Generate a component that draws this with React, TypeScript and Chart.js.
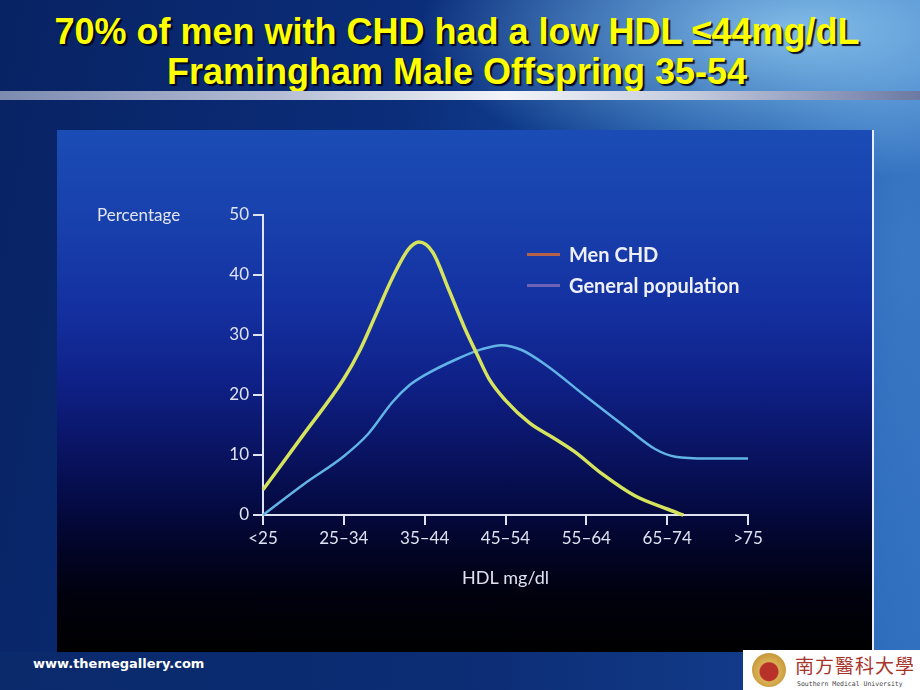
import React, { useEffect, useRef } from 'react';
import { Chart, registerables } from 'chart.js';

Chart.register(...registerables);

// ---- data ----
const hdlCategories = ['<25', '25–34', '35–44', '45–54', '55–64', '65–74', '>75'];
const seriesNames = ['Men CHD', 'General population'];

// x = position along the HDL category axis (0 = "<25" ... 6 = ">75"), y = percentage
const chdPosition = [0, 0.5, 1, 1.2, 1.4, 1.6, 1.8, 1.93, 2.1, 2.3, 2.5, 2.64, 2.8, 3, 3.3, 3.6, 3.85, 4.2, 4.6, 5, 5.2];
const chdPercent = [4.2, 13.4, 22.7, 27.5, 33.5, 39.5, 44.3, 45.5, 43.8, 37.5, 31, 27, 22.6, 19.1, 15.3, 12.8, 10.6, 6.8, 3.2, 1.0, 0];

const popPosition = [0, 0.5, 1, 1.3, 1.6, 1.8, 2, 2.4, 2.7, 2.95, 3.2, 3.5, 4, 4.5, 4.85, 5.1, 5.5, 6];
const popPercent = [0, 5.1, 9.8, 13.5, 18.8, 21.5, 23.3, 26.0, 27.6, 28.3, 27.5, 25, 19.7, 14.5, 11, 9.7, 9.4, 9.4];

const yMin = 0;
const yMax = 50;
const yStep = 10;

const titleLines = ['70% of men with CHD had a low HDL ≤44mg/dL', 'Framingham Male Offspring 35-54'];
const yAxisLabel = 'Percentage';
const xAxisLabel = 'HDL mg/dl';

const lineColors = ['#d6e35c', '#62b4e6'];
const legendColors = ['#c8663f', '#7668b8'];
const axisColor = '#dfe3f1';
const labelFont = 'Lato, "Open Sans", sans-serif';

function ChartPanel() {
  const ref = useRef<HTMLCanvasElement | null>(null);
  useEffect(() => {
    if (!ref.current) return;
    const chart = new Chart(ref.current, {
      type: 'line',
      data: {
        datasets: [
          {
            label: seriesNames[0],
            data: chdPosition.map((x, i) => ({ x, y: chdPercent[i] })),
            borderColor: lineColors[0],
            borderWidth: 3.5,
            pointRadius: 0,
            cubicInterpolationMode: 'monotone',
            fill: false,
            clip: 6,
          },
          {
            label: seriesNames[1],
            data: popPosition.map((x, i) => ({ x, y: popPercent[i] })),
            borderColor: lineColors[1],
            borderWidth: 2.5,
            pointRadius: 0,
            cubicInterpolationMode: 'monotone',
            fill: false,
            clip: 6,
          },
        ],
      },
      options: {
        responsive: false,
        animation: false,
        layout: { padding: { top: 85, right: 124, left: 0, bottom: 0 } },
        plugins: { legend: { display: false }, tooltip: { enabled: false }, title: { display: false } },
        scales: {
          x: {
            type: 'linear',
            min: 0,
            max: hdlCategories.length - 1,
            afterFit: (s: any) => { s.height = 137; },
            afterBuildTicks: (s: any) => {
              s.ticks = hdlCategories.map((_, i) => ({ value: i }));
            },
            ticks: {
              autoSkip: false,
              maxRotation: 0,
              padding: 3,
              color: axisColor,
              font: { family: labelFont, size: 17 },
              callback: (v: any) => hdlCategories[Number(v)] ?? '',
            },
            grid: { display: true, drawOnChartArea: false, drawTicks: true, tickLength: 10, color: axisColor, lineWidth: 2 },
            border: { display: true, color: axisColor, width: 2 },
            title: {
              display: true,
              text: xAxisLabel,
              color: axisColor,
              font: { family: labelFont, size: 18 },
              padding: { top: 0, bottom: 63 },
            },
          },
          y: {
            min: yMin,
            max: yMax,
            afterFit: (s: any) => { s.width = 206; },
            ticks: {
              stepSize: yStep,
              padding: 4,
              color: axisColor,
              font: { family: labelFont, size: 17 },
            },
            grid: { display: true, drawOnChartArea: false, drawTicks: true, tickLength: 10, color: axisColor, lineWidth: 2 },
            border: { display: true, color: axisColor, width: 2 },
          },
        },
      },
    } as any);
    return () => chart.destroy();
  }, []);
  return <canvas ref={ref} width={815} height={522} style={{ position: 'absolute', left: 0, top: 0, width: 815, height: 522 }} />;
}

export default function App() {
  const abs = (s: React.CSSProperties): React.CSSProperties => ({ position: 'absolute', ...s });
  return (
    <div
      style={{
        position: 'fixed',
        left: 0,
        top: 0,
        width: 920,
        height: 690,
        overflow: 'hidden',
        background:
          'radial-gradient(ellipse 380px 150px at 800px 30px, rgba(140,198,238,0.9), rgba(140,198,238,0) 100%),' +
          'radial-gradient(ellipse 140px 500px at 905px 250px, rgba(70,130,205,0.6), rgba(70,130,205,0) 100%),' +
          'linear-gradient(100deg, #082363 0%, #0b2d7a 40%, #134a9c 65%, #2262b4 85%, #2f6fbe 100%)',
        fontFamily: 'Arial, "Liberation Sans", sans-serif',
      }}
    >
      {/* title */}
      <div
        style={abs({
          left: 0,
          top: 12,
          width: 914,
          textAlign: 'center',
          fontFamily: '"Liberation Sans", Arial, sans-serif',
          fontWeight: 'bold',
          fontSize: 36,
          lineHeight: '40px',
          color: '#ffff00',
          textShadow: '2px 2px 1px rgba(0,0,20,0.9)',
          whiteSpace: 'nowrap',
        })}
      >
        <div>{titleLines[0]}</div>
        <div>{titleLines[1]}</div>
      </div>
      {/* separator bar */}
      <div
        style={abs({
          left: 0,
          top: 91,
          width: 920,
          height: 9,
          background: 'linear-gradient(90deg, #7d8bb0 0%, #b4bdd4 30%, #f2f4f8 55%, #c4cbdd 75%, #6b79a4 100%)',
        })}
      />
      {/* bottom band */}
      <div style={abs({ left: 0, top: 652, width: 920, height: 38, background: 'linear-gradient(90deg, #0a2a6c 0%, #0c2c74 50%, #123a88 80%, #1a4a98 100%)' })} />
      {/* chart panel */}
      <div
        style={abs({
          left: 57,
          top: 130,
          width: 815,
          height: 522,
          background:
            'linear-gradient(180deg, #1b4cb6 0%, #1840ac 18%, #1430a0 34%, #0f2188 48%, #0a1566 60%, #050b46 71%, #020424 81%, #00010c 90%, #000000 100%)',
        })}
      >
        <ChartPanel />
        <div style={abs({ left: 40, top: 76, fontFamily: labelFont, fontSize: 17, color: '#e2e6f3', lineHeight: '18px' })}>{yAxisLabel}</div>
        {seriesNames.map((n, i) => (
          <div key={n} style={abs({ left: 470, top: 112 + i * 31, height: 24, display: 'flex', alignItems: 'center' })}>
            <div style={{ width: 33, height: 3, background: legendColors[i], marginRight: 9, opacity: 0.9 }} />
            <div style={{ fontFamily: labelFont, fontWeight: 'bold', fontSize: 20, color: '#eef0f8', whiteSpace: 'nowrap' }}>{n}</div>
          </div>
        ))}
      </div>
      <div style={abs({ left: 872, top: 130, width: 2, height: 522, background: '#e8eef8' })} />
      {/* footer */}
      <div style={abs({ left: 33, top: 656, fontFamily: '"DejaVu Sans", Verdana, sans-serif', fontWeight: 'bold', fontSize: 13, color: '#ffffff', lineHeight: '16px' })}>
        www.themegallery.com
      </div>
      <div style={abs({ left: 743, top: 650, width: 177, height: 40, background: '#ffffff' })}>
        <div
          style={abs({
            left: 9,
            top: 3,
            width: 34,
            height: 34,
            borderRadius: '50%',
            background: 'radial-gradient(circle at 50% 55%, #b8322a 0%, #b8322a 35%, #d9b255 40%, #c99a3e 70%, #f2e3b4 100%)',
          })}
        />
        <div style={abs({ left: 52, top: 3, fontFamily: '"Noto Sans CJK TC", sans-serif', fontSize: 19, color: '#a8352b', lineHeight: '24px', letterSpacing: 1, whiteSpace: 'nowrap' })}>
          南方醫科大學
        </div>
        <div style={abs({ left: 54, top: 30, fontFamily: '"DejaVu Sans Mono", monospace', fontSize: 6.5, color: '#444', whiteSpace: 'nowrap' })}>
          Southern Medical University
        </div>
      </div>
    </div>
  );
}
